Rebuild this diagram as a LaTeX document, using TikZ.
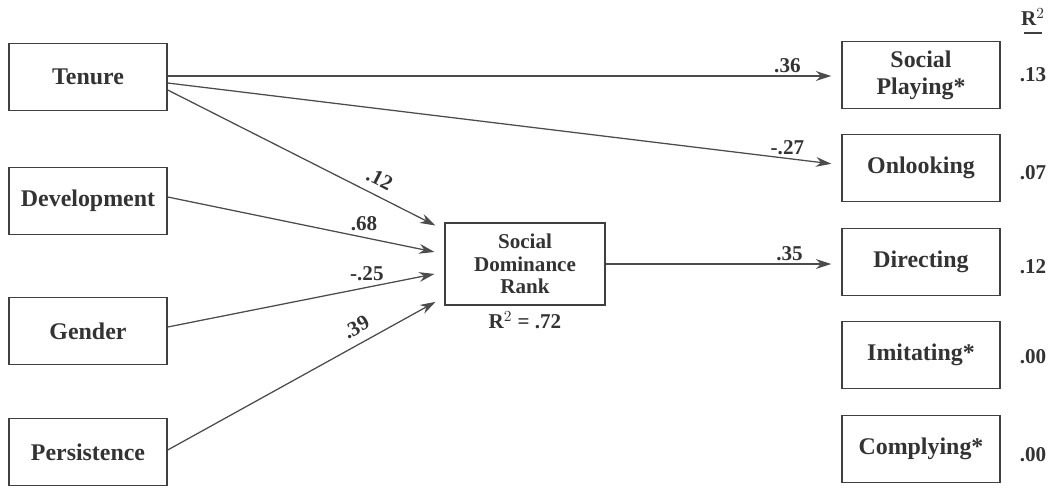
\documentclass[tikz,border=0pt]{standalone}
\usepackage{fontspec}
\setmainfont{Liberation Serif}
\usetikzlibrary{arrows.meta}

\begin{document}
\begin{tikzpicture}[x=0.025cm,y=-0.025cm]
	\tikzstyle{box}=[draw=black!75, line width=1pt, minimum width=158*0.025cm, minimum height=67*0.025cm, align=center, text=black!80, font=\fontsize{17}{19}\selectfont\bfseries, inner sep=2pt]
	\tikzstyle{path}=[draw=black!70, line width=0.9pt, -{Stealth[length=11pt,width=7pt]}, shorten >=10*0.025cm]
	\tikzstyle{coef}=[text=black!80, font=\fontsize{15}{17}\selectfont\bfseries, inner sep=2pt]
	\useasboundingbox (0,0) rectangle (1058,487);
	% predictors
	\node[box] (ten) at (88,77) {Tenure};
	\node[box] (dev) at (88,201) {Development};
	\node[box] (gen) at (88,331) {Gender};
	\node[box] (per) at (88,452) {Persistence};
	% mediator
	\node[box, minimum width=160*0.025cm, minimum height=82*0.025cm, font=\fontsize{15}{16}\selectfont\bfseries] (sdr) at (525,264) {Social\\Dominance\\Rank};
	\node[coef, below=2pt] (sdrr) at (sdr.south) {R$^2$ = .72};
	% outcomes
	\node[box] (play) at (921,75) {Social\\Playing*};
	\node[box] (look) at (921,168) {Onlooking};
	\node[box] (dir) at (921,262) {Directing};
	\node[box] (imi) at (921,355) {Imitating*};
	\node[box] (comp) at (921,449) {Complying*};
	% R squared column
	\node[coef] (rsq) at (1033,17) {R$^2$};
	\draw[black!75, line width=1pt] ([xshift=-9*0.025cm, yshift=-3pt]rsq.south) -- ([xshift=9*0.025cm, yshift=-3pt]rsq.south);
	\node[coef] (rplay) at (1033,75) {.13};
	\node[coef] (rlook) at (1033,173) {.07};
	\node[coef] (rdir) at (1033,267) {.12};
	\node[coef] (rimi) at (1033,357) {.00};
	\node[coef] (rcomp) at (1033,455) {.00};
	% paths
	\draw[path] ([yshift=1*0.025cm]ten.east) -- node[coef, above, pos=0.92] {.36} (play.west |- 0,76);
	\draw[path] ([yshift=-6*0.025cm]ten.east) -- node[coef, above, pos=0.92] {-.27} (look.west |- 0,165);
	\draw[path] ([yshift=-13*0.025cm]ten.east) -- node[coef, above=4pt, sloped, pos=0.74] {.12} ([yshift=34*0.025cm]sdr.west);
	\draw[path] ([yshift=4*0.025cm]dev.east) -- node[coef, above=2pt, pos=0.71] {.68} ([yshift=10*0.025cm]sdr.west);
	\draw[path] ([yshift=4*0.025cm]gen.east) -- node[coef, above=2pt, pos=0.72] {-.25} ([yshift=-8*0.025cm]sdr.west);
	\draw[path] ([yshift=2*0.025cm]per.east) -- node[coef, above=4pt, sloped, pos=0.71] {.39} ([yshift=-33*0.025cm]sdr.west);
	\draw[path] (sdr.east) -- node[coef, above, pos=0.78] {.35} (dir.west |- sdr.east);
\end{tikzpicture}
\end{document}
